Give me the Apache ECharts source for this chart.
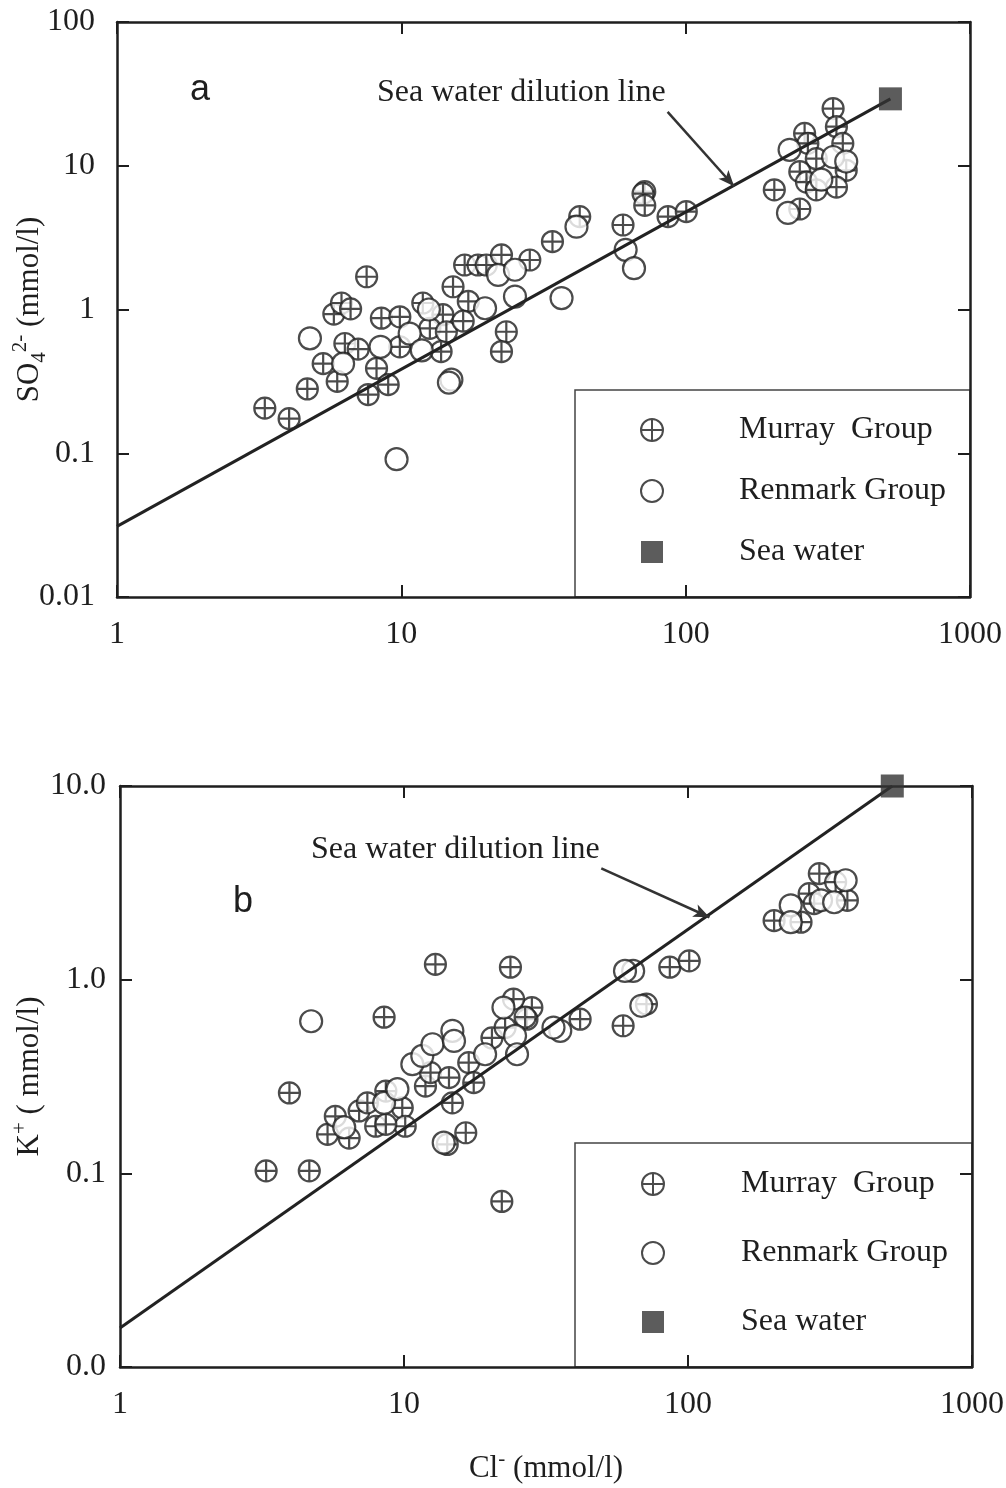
<!DOCTYPE html>
<html>
<head>
<meta charset="utf-8">
<script src="https://cdn.jsdelivr.net/npm/echarts@6/dist/echarts.min.js"></script>
<style>
html,body{margin:0;padding:0;background:#fff;}
#chart{width:1006px;height:1488px;}
</style>
</head>
<body>
<div id="chart"></div>
<script>
// ---------- Data ----------
// Panel a: SO4 vs Cl (mmol/l)
const murrayA_Cl  = [3.31,4.03,4.67,7.55,5.79,6.16,6.63,6.33,5.31,5.95,7.05,8.51,9.88,8.18,7.64,8.99,9.88,11.9,14.0,12.6,14.4,13.8,15.2,16.7,18.6,19.9,22.5,28.3,17.2,16.5,23.4,22.5,34.0,42.4,60.2,71.8,70.8,71.8,86.7,100.5,330,339,262,269,357,288,367,252,266,339,288,205,252];
const murrayA_SO4 = [0.206,0.174,0.28,1.69,0.93,1.11,1.01,0.58,0.42,0.316,0.53,0.87,0.89,0.39,0.256,0.30,0.55,1.11,0.92,0.74,0.70,0.51,1.44,2.04,2.04,2.04,2.40,2.21,1.14,0.83,0.70,0.51,2.97,4.43,3.87,6.6,6.4,5.3,4.43,4.8,25.0,18.7,16.8,14.3,14.3,11.2,9.3,9.1,7.7,7.1,6.8,6.8,5.0];
const renmarkA_Cl  = [9.62,4.77,6.24,8.45,10.7,11.8,12.5,19.7,21.9,25.1,25.1,15.0,14.7,41.3,36.6,61.5,65.8,232,330,367,300,229];
const renmarkA_SO4 = [0.091,0.63,0.42,0.55,0.68,0.52,1.0,1.02,1.74,1.89,1.23,0.325,0.31,3.77,1.2,2.60,1.94,12.9,11.5,10.7,8.0,4.7];
const seaA_Cl = [525];
const seaA_SO4 = [29.2];
const dilutionA_Cl = [1, 525];
const dilutionA_SO4 = [0.031, 29.2];
const arrowA_Cl = [86.4, 148];
const arrowA_SO4 = [23.7, 7.2];

// Panel b: K vs Cl (mmol/l)
const murrayB_Cl = [12.9,23.7,8.51,3.95,3.27,4.64,22.1,16.5,14.2,5.38,5.73,6.41,6.95,7.43,7.95,8.63,9.86,10.1,8.63,11.9,12.4,14.4,14.8,16.9,17.6,20.4,22.7,28.2,27.1,24.3,26.7,86.3,101,71.4,59.1,41.7,290,331,267,278,364,201,250];
const murrayB_K  = [1.20,1.16,0.64,0.26,0.103,0.103,0.0716,0.162,0.141,0.159,0.197,0.152,0.21,0.231,0.175,0.266,0.218,0.175,0.179,0.282,0.331,0.312,0.231,0.373,0.294,0.50,0.566,0.718,0.625,0.794,0.64,1.16,1.25,0.748,0.578,0.625,3.53,3.19,2.78,2.47,2.57,2.02,1.98];
const renmarkB_Cl = [4.71,13.8,6.16,8.51,9.48,10.7,11.6,12.6,14.8,15.0,19.3,24.6,25.0,22.4,64.1,60.0,68.5,35.5,33.6,359,230,294,327,230];
const renmarkB_K  = [0.61,0.144,0.173,0.231,0.272,0.366,0.404,0.464,0.544,0.483,0.412,0.513,0.412,0.718,1.11,1.11,0.733,0.544,0.566,3.26,2.42,2.57,2.51,1.98];
const seaB_Cl = [524];
const seaB_K = [10.0];
const dilutionB_Cl = [1, 524];
const dilutionB_K = [0.0159, 10.0];
const arrowB_Cl = [49.5, 119];
const arrowB_K = [3.76, 2.1];

const xTicks = [1, 10, 100, 1000];
const legendNames = ['Murray  Group', 'Renmark Group', 'Sea water'];
const annotationText = 'Sea water dilution line';

// ---------- Helpers ----------
const zip = (a, b) => a.map((v, i) => [v, b[i]]);
const INK = '#1e1e1e';
const SERIF = '"Liberation Serif", "Times New Roman", serif';
const crossPath = 'path://M0,10A10,10,0,1,1,20,10A10,10,0,1,1,0,10ZM10,0L10,20M0,10L20,10';

function xAx(grid, pos, showLabel) {
  return {
    type: 'log', logBase: 10, min: 1, max: 1000, gridIndex: grid, position: pos,
    axisLine: { show: true, lineStyle: { color: INK, width: 2.5 } },
    axisTick: { show: true, inside: true, length: 12, lineStyle: { color: INK, width: 2 } },
    axisLabel: { show: showLabel, margin: 22, color: INK, fontFamily: SERIF, fontSize: 32,
      formatter: v => String(xTicks.find(t => Math.abs(Math.log10(t) - Math.log10(v)) < 1e-6) || v) },
    splitLine: { show: false }, minorTick: { show: false }
  };
}
function yAx(grid, pos, showLabel, min, max, fmt, margin) {
  return {
    type: 'log', logBase: 10, min: min, max: max, gridIndex: grid, position: pos,
    axisLine: { show: true, lineStyle: { color: INK, width: 2.5 } },
    axisTick: { show: true, inside: true, length: 12, lineStyle: { color: INK, width: 2 } },
    axisLabel: { show: showLabel, margin: margin, color: INK, fontFamily: SERIF, fontSize: 32, formatter: fmt },
    splitLine: { show: false }, minorTick: { show: false }
  };
}
const markerStyle = { color: '#fff', borderColor: INK, borderWidth: 2.2 };

function panelSeries(xi, yi, murray, renmark, sea, line, arrow) {
  return [
    { name: legendNames[0], type: 'scatter', xAxisIndex: xi, yAxisIndex: yi, data: murray,
      symbol: crossPath, symbolSize: 21, itemStyle: markerStyle, z: 2, silent: true },
    { name: legendNames[1], type: 'scatter', xAxisIndex: xi, yAxisIndex: yi, data: renmark,
      symbol: 'circle', symbolSize: 22, itemStyle: markerStyle, z: 3, silent: true },
    { name: 'dilution', type: 'line', xAxisIndex: xi, yAxisIndex: yi, data: line,
      showSymbol: false, symbol: 'none', lineStyle: { color: '#222', width: 3 }, z: 4, silent: true,
      markLine: { silent: true, symbol: ['none', 'arrow'], symbolSize: [10, 16],
        lineStyle: { color: '#333', width: 2.5, type: 'solid' }, label: { show: false },
        data: [[{ coord: arrow[0] }, { coord: arrow[1] }]] } },
    { name: legendNames[2], type: 'scatter', xAxisIndex: xi, yAxisIndex: yi, data: sea,
      symbol: 'rect', symbolSize: 23, itemStyle: { color: '#333' }, z: 5, silent: true }
  ];
}

function legendFor(top, left, gap, padLeft) {
  return {
    orient: 'vertical', left: left, top: top, itemWidth: 22, itemHeight: 22, itemGap: gap,
    selectedMode: false, padding: 0,
    textStyle: { fontFamily: SERIF, fontSize: 32, color: INK, padding: [0, 0, 0, padLeft] },
    data: [
      { name: legendNames[0], icon: crossPath, itemStyle: { color: '#fff', borderColor: INK, borderWidth: 2 } },
      { name: legendNames[1], icon: 'circle', itemStyle: { color: '#fff', borderColor: INK, borderWidth: 2 } },
      { name: legendNames[2], icon: 'rect', itemStyle: { color: '#333', borderWidth: 0 } }
    ]
  };
}

const chart = echarts.init(document.getElementById('chart'), null, { renderer: 'canvas' });

const richSerif = (size) => ({
  n: { fontFamily: SERIF, fontSize: size, lineHeight: 40, color: INK, verticalAlign: 'middle' },
  sub: { fontFamily: SERIF, fontSize: 21, lineHeight: 20, color: INK, verticalAlign: 'bottom' },
  sup: { fontFamily: SERIF, fontSize: 21, lineHeight: 20, color: INK, verticalAlign: 'top' }
});

const option = {
  backgroundColor: '#fff',
  animation: false,
  grid: [
    { left: 117, top: 22, width: 853, height: 575, containLabel: false, outerBoundsMode: 'none' },
    { left: 120, top: 786, width: 852, height: 581, containLabel: false, outerBoundsMode: 'none' }
  ],
  xAxis: [
    xAx(0, 'bottom', true),
    xAx(0, 'top', false),
    Object.assign(xAx(1, 'bottom', true), {
      name: '{n|Cl}{sup|-}{n| (mmol/l)}', nameLocation: 'middle', nameGap: 82, nameMoveOverlap: false,
      nameTextStyle: { fontFamily: SERIF, color: INK, rich: richSerif(31) }
    }),
    xAx(1, 'top', false)
  ],
  yAxis: [
    Object.assign(yAx(0, 'left', true, 0.01, 100, v => String(+v.toPrecision(3)), 22), {
      name: '{n|SO}{sub|4}{sup|2-}{n| (mmol/l)}', nameLocation: 'middle', nameGap: 67, nameMoveOverlap: false,
      nameTextStyle: { fontFamily: SERIF, color: INK, rich: richSerif(31) }
    }),
    yAx(0, 'right', false, 0.01, 100, null, 8),
    Object.assign(yAx(1, 'left', true, 0.01, 10, v => (+v).toFixed(1), 14), {
      name: '{n|K}{sup|+}{n| ( mmol/l)}', nameLocation: 'middle', nameGap: 70, nameMoveOverlap: false,
      nameTextStyle: { fontFamily: SERIF, color: INK, rich: richSerif(31) }
    }),
    yAx(1, 'right', false, 0.01, 10, null, 8)
  ],
  legend: [
    legendFor(414, 640, 29, 71),
    legendFor(1168, 641, 37, 72)
  ],
  graphic: [
    { type: 'rect', z: 0, shape: { x: 575, y: 390, width: 395, height: 207 },
      style: { fill: '#fff', stroke: '#444', lineWidth: 1.5 } },
    { type: 'rect', z: 0, shape: { x: 575, y: 1143, width: 397, height: 224 },
      style: { fill: '#fff', stroke: '#444', lineWidth: 1.5 } },
    { type: 'text', z: 10, x: 200, y: 90,
      style: { text: 'a', font: '36px "Liberation Sans", Arial, sans-serif', fill: INK, align: 'center', verticalAlign: 'middle' } },
    { type: 'text', z: 10, x: 243, y: 902,
      style: { text: 'b', font: '36px "Liberation Sans", Arial, sans-serif', fill: INK, align: 'center', verticalAlign: 'middle' } },
    { type: 'text', z: 10, x: 377, y: 93,
      style: { text: annotationText, font: '32px "Liberation Serif", "Times New Roman", serif', fill: INK, align: 'left', verticalAlign: 'middle' } },
    { type: 'text', z: 10, x: 311, y: 850,
      style: { text: annotationText, font: '32px "Liberation Serif", "Times New Roman", serif', fill: INK, align: 'left', verticalAlign: 'middle' } }
  ],
  series: [].concat(
    panelSeries(0, 0, zip(murrayA_Cl, murrayA_SO4), zip(renmarkA_Cl, renmarkA_SO4), zip(seaA_Cl, seaA_SO4),
      zip(dilutionA_Cl, dilutionA_SO4), zip(arrowA_Cl, arrowA_SO4)),
    panelSeries(2, 2, zip(murrayB_Cl, murrayB_K), zip(renmarkB_Cl, renmarkB_K), zip(seaB_Cl, seaB_K),
      zip(dilutionB_Cl, dilutionB_K), zip(arrowB_Cl, arrowB_K))
  )
};
chart.setOption(option);
</script>
</body>
</html>
